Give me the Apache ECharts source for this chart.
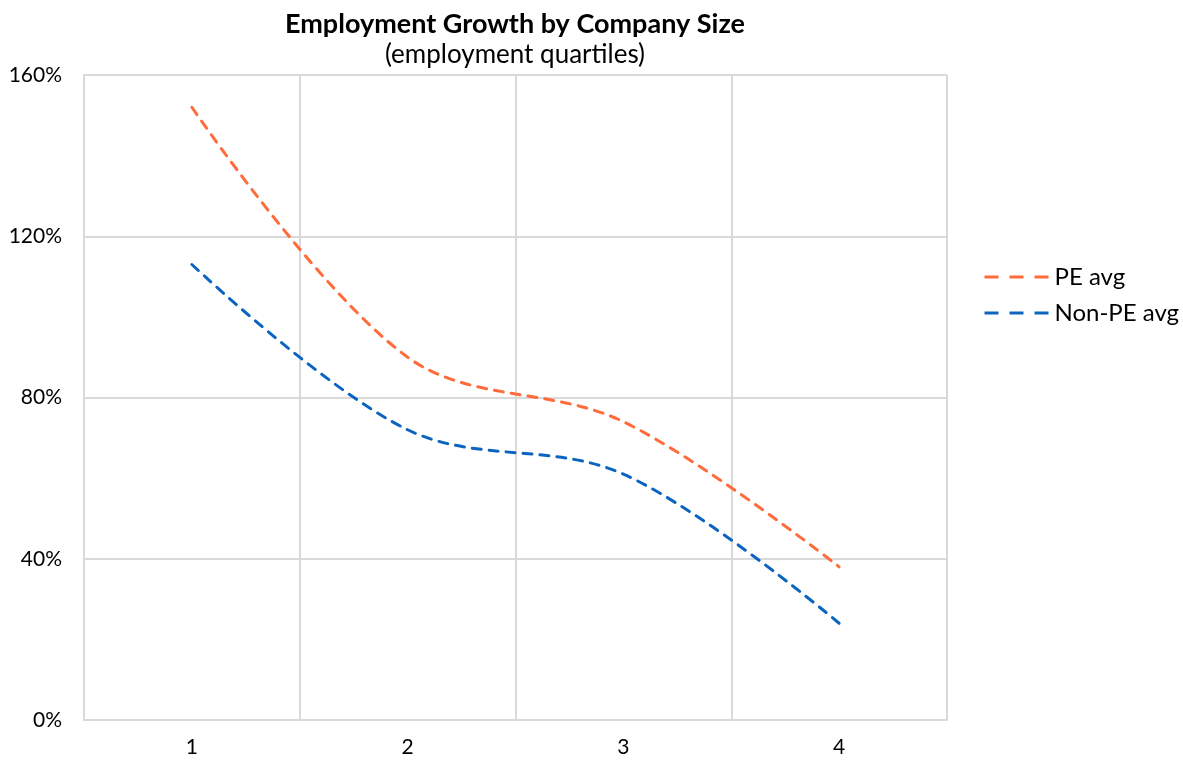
<!DOCTYPE html>
<html>
<head>
<meta charset="utf-8">
<script src="https://cdn.jsdelivr.net/npm/echarts@6/dist/echarts.min.js"></script>
<style>html,body{margin:0;padding:0;background:#fff;}#c{width:1183px;height:761px;}</style>
</head>
<body>
<div id="c"></div>
<script>
const categories = ['1', '2', '3', '4'];
const peAvg = [1.52, 0.90, 0.74, 0.38];
const nonPeAvg = [1.13, 0.72, 0.61, 0.24];
const yTicks = [0, 0.4, 0.8, 1.2, 1.6];

const chart = echarts.init(document.getElementById('c'));
const font = 'Lato, "Open Sans", sans-serif';
chart.setOption({
  backgroundColor: '#fff',
  animation: false,
  title: [
    { text: 'Employment Growth by Company Size', left: 510, top: 6, textAlign: 'center',
      textStyle: { fontFamily: font, fontWeight: 'bold', fontSize: 27, color: '#000' } },
    { text: '(employment quartiles)', left: 510, top: 37, textAlign: 'center',
      textStyle: { fontFamily: font, fontWeight: 'normal', fontSize: 26, color: '#000' } }
  ],
  legend: {
    orient: 'vertical', left: 978, top: 260, itemGap: 12, itemWidth: 65, itemHeight: 14,
    itemStyle: { opacity: 0 },
    lineStyle: { width: 3, type: [14, 11], cap: 'butt' },
    textStyle: { fontFamily: font, fontSize: 24, color: '#000' },
    data: ['PE avg', 'Non-PE avg']
  },
  grid: { left: 84, right: 236, top: 75, bottom: 41, containLabel: false },
  xAxis: {
    type: 'category', data: categories, boundaryGap: true,
    axisLine: { show: true, lineStyle: { color: '#d9d9d9', width: 2 } },
    axisTick: { show: false },
    splitLine: { show: true, lineStyle: { color: '#d9d9d9', width: 2 } },
    axisLabel: { fontFamily: font, fontSize: 21, color: '#000', margin: 17 }
  },
  yAxis: {
    type: 'value', min: 0, max: 1.6, interval: 0.4,
    axisLine: { show: true, lineStyle: { color: '#d9d9d9', width: 2 } },
    axisTick: { show: false },
    splitLine: { show: true, lineStyle: { color: '#d9d9d9', width: 2 } },
    axisLabel: { fontFamily: font, fontSize: 21, color: '#000', margin: 22,
      formatter: v => Math.round(v * 100) + '%' }
  },
  series: [
    { name: 'PE avg', type: 'line', data: peAvg, smooth: 0.35, symbol: 'none',
      color: '#FF6B3B',
      lineStyle: { color: '#FF6B3B', width: 3, type: [9, 8], cap: 'round' } },
    { name: 'Non-PE avg', type: 'line', data: nonPeAvg, smooth: 0.35, symbol: 'none',
      color: '#0B64C0',
      lineStyle: { color: '#0B64C0', width: 3, type: [9, 8], cap: 'round' } }
  ]
});
</script>
</body>
</html>
